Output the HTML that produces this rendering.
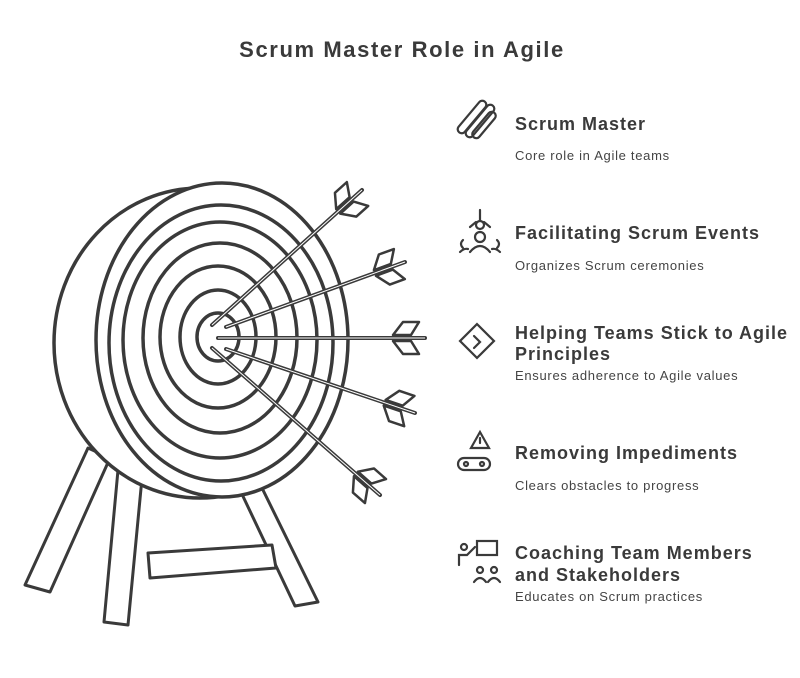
<!DOCTYPE html>
<html><head><style>
body{margin:0;background:#fff;}
svg text{font-family:"Liberation Sans",sans-serif;fill:#3a3a3a;}
.h{font-weight:bold;font-size:18px;letter-spacing:1px;}
.d{font-size:13px;fill:#444;letter-spacing:0.7px;}
</style></head><body>
<svg width="800" height="673" viewBox="0 0 800 673" xmlns="http://www.w3.org/2000/svg">
<defs>
<g id="fl" fill="#fff" stroke="#3a3a3a" stroke-width="2.5" stroke-linejoin="round">
<polygon points="-32,-3 -22,-16 -6,-16 -14,-3"/>
<polygon points="-32,3 -22,16 -6,16 -14,3"/>
</g>
</defs>
<text x="402" y="57" text-anchor="middle" style="font-weight:bold;font-size:22px;letter-spacing:1.6px">Scrum Master Role in Agile</text>
<g fill="#fff" stroke="#3a3a3a" stroke-width="3" stroke-linejoin="round">
<polygon points="88,448 110,458 50,592 25,585"/>
<polygon points="118,470 142,478 128,625 104,622"/>
<polygon points="240,490 262,488 318,602 295,606"/>
<polygon points="148,553 272,545 276,568 150,578"/>
</g>
<g fill="#fff" stroke="#3a3a3a" stroke-width="3.5">
<ellipse cx="200" cy="343" rx="146" ry="155"/>
<ellipse cx="222" cy="340" rx="126" ry="157"/>
<ellipse cx="221" cy="343" rx="112" ry="138"/>
<ellipse cx="220" cy="340" rx="97" ry="118"/>
<ellipse cx="220" cy="338" rx="77" ry="95"/>
<ellipse cx="218" cy="337" rx="58" ry="71"/>
<ellipse cx="218" cy="337" rx="38" ry="47"/>
<ellipse cx="218" cy="337" rx="21" ry="24"/>
</g>
<g stroke="#3a3a3a" stroke-width="4" stroke-linecap="round">
<line x1="212" y1="325" x2="362" y2="190"/>
<line x1="226" y1="327" x2="405" y2="262"/>
<line x1="218" y1="338" x2="425" y2="338"/>
<line x1="226" y1="349" x2="415" y2="413"/>
<line x1="212" y1="348" x2="380" y2="495"/>
</g>
<g stroke="#fff" stroke-width="1">
<line x1="212" y1="325" x2="362" y2="190"/>
<line x1="226" y1="327" x2="405" y2="262"/>
<line x1="218" y1="338" x2="425" y2="338"/>
<line x1="226" y1="349" x2="415" y2="413"/>
<line x1="212" y1="348" x2="380" y2="495"/>
</g>
<use href="#fl" transform="translate(362,190) rotate(-42)"/>
<use href="#fl" transform="translate(405,262) rotate(-20)"/>
<use href="#fl" transform="translate(425,338)"/>
<use href="#fl" transform="translate(415,413) rotate(18.7)"/>
<use href="#fl" transform="translate(380,495) rotate(41.2)"/>
<g fill="none" stroke="#3a3a3a" stroke-width="2.2" stroke-linecap="round">
<rect x="452" y="113" width="40" height="8" rx="4" transform="rotate(-50 472 117)"/>
<rect x="460" y="117" width="40" height="8" rx="4" transform="rotate(-50 480 121)"/>
<rect x="468" y="121" width="32" height="8" rx="4" transform="rotate(-50 484 125)"/>
<circle cx="480" cy="225" r="4"/><path d="M480 210v10M470 227l6-5M490 227l-6-5"/>
<circle cx="480" cy="237" r="5"/><path d="M470 252q10-12 20 0M463 240q-4 4 0 8M497 240q4 4 0 8M460 252q4-4 8-3M500 252q-4-4-8-3"/>
<rect x="465" y="329" width="24" height="24" transform="rotate(45 477 341)"/><path d="M474 336l6 6-6 6"/>
<path d="M480 432l9 16h-18z"/><path d="M480 438v5"/><rect x="458" y="458" width="32" height="12" rx="6"/><circle cx="466" cy="464" r="2"/><circle cx="482" cy="464" r="2"/>
<circle cx="464" cy="547" r="3"/><path d="M459 565v-10h8l8-8"/><rect x="477" y="541" width="20" height="14"/>
<circle cx="480" cy="570" r="3"/><circle cx="494" cy="570" r="3"/><path d="M474 582q6-8 12 0M488 582q6-8 12 0"/>
</g>
<text class="h" x="515" y="130">Scrum Master</text>
<text class="d" x="515" y="160">Core role in Agile teams</text>
<text class="h" x="515" y="239">Facilitating Scrum Events</text>
<text class="d" x="515" y="270">Organizes Scrum ceremonies</text>
<text class="h" x="515" y="339">Helping Teams Stick to Agile</text>
<text class="h" x="515" y="360">Principles</text>
<text class="d" x="515" y="380">Ensures adherence to Agile values</text>
<text class="h" x="515" y="459">Removing Impediments</text>
<text class="d" x="515" y="490">Clears obstacles to progress</text>
<text class="h" x="515" y="559">Coaching Team Members</text>
<text class="h" x="515" y="581">and Stakeholders</text>
<text class="d" x="515" y="601">Educates on Scrum practices</text>
</svg>
</body></html>
